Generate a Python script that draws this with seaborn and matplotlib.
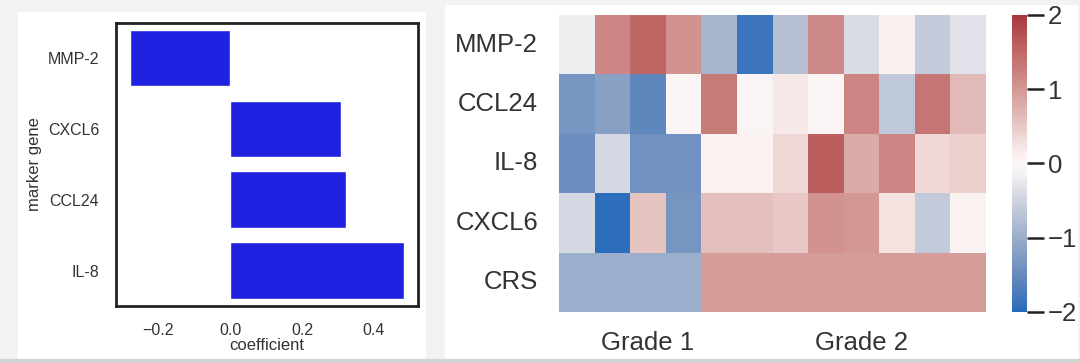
import matplotlib

matplotlib.use("Agg")
import matplotlib.pyplot as plt  # noqa: E402
import numpy as np  # noqa: E402
import pandas as pd  # noqa: E402
import seaborn as sns  # noqa: E402
from matplotlib.patches import Rectangle  # noqa: E402

sns.set_theme(style="white")
plt.rcParams["font.family"] = ["Liberation Sans", "DejaVu Sans"]

# коэффициенты маркерных генов
genes = ["MMP-2", "CXCL6", "CCL24", "IL-8"]
coefs = [-0.279, 0.307, 0.321, 0.484]

# тепловая карта: строки и значения по пациентам
rows = ["MMP-2", "CCL24", "IL-8", "CXCL6", "CRS"]
mmp2 = [-0.2, 1.2, 1.5, 1.05, -0.9, -1.85, -0.75, 1.15, -0.4, 0.1, -0.6, -0.3]
ccl24 = [-1.35, -1.2, -1.55, 0.03, 1.3, 0.03, 0.2, 0.0, 1.2, -0.65, 1.35, 0.65]
il8 = [-1.45, -0.45, -1.4, -1.4, 0.08, 0.08, 0.35, 1.6, 0.8, 1.2, 0.35, 0.45]
cxcl6 = [-0.45, -1.95, 0.55, -1.35, 0.6, 0.6, 0.5, 1.05, 1.0, 0.25, -0.6, 0.08]
crs = [-1.0] * 4 + [0.95] * 8
grade_labels = ["Grade 1", "Grade 2"]
grade_ticks = [2.5, 8.5]

fig = plt.figure(figsize=(10.8, 3.63), dpi=100)
fig.patch.set_facecolor("#f2f2f2")
# белые подложки двух панелей
fig.add_artist(Rectangle((18 / 1080, 5 / 363), 407 / 1080, 346 / 363,
                         transform=fig.transFigure, color="white", zorder=0))
fig.add_artist(Rectangle((445 / 1080, 5 / 363), 632 / 1080, 353 / 363,
                         transform=fig.transFigure, color="white", zorder=0))
fig.add_artist(Rectangle((0, 0), 1, 4 / 363, transform=fig.transFigure,
                         color="#d4d4d4", zorder=0))

text_color = "#333333"

ax1 = fig.add_axes([0.1074, 0.157, 0.2796, 0.7805])
sns.barplot(x=coefs, y=genes, color="#2020e0", saturation=1, orient="h", ax=ax1)
ax1.set_xlabel("coefficient", fontsize=12, color=text_color, labelpad=0)
ax1.set_ylabel("marker gene", fontsize=12, color=text_color, labelpad=4)
ax1.set_xticks([-0.2, 0.0, 0.2, 0.4])
ax1.tick_params(axis="both", length=0, labelsize=11.5, labelcolor=text_color)
ax1.tick_params(axis="y", pad=12)
ax1.tick_params(axis="x", pad=12)
for s in ax1.spines.values():
    s.set_color("#222222")
    s.set_linewidth(2)

data = pd.DataFrame(np.array([mmp2, ccl24, il8, cxcl6, crs]), index=rows)

ax2 = fig.add_axes([0.5176, 0.1405, 0.3954, 0.8182])
cax = fig.add_axes([0.937, 0.1405, 0.0139, 0.8182])
sns.heatmap(data, cmap="vlag", vmin=-2, vmax=2, ax=ax2, cbar_ax=cax,
            xticklabels=False)
ax2.set_xticks(grade_ticks)
ax2.set_xticklabels(grade_labels)
ax2.tick_params(axis="both", length=0, labelsize=18.5, labelcolor=text_color)
ax2.tick_params(axis="y", pad=15, rotation=0)
ax2.tick_params(axis="x", pad=14)
ax2.set_ylabel("")

cax.set_yticks([-2, -1, 0, 1, 2])
cax.set_yticklabels(["\u22122", "\u22121", "0", "1", "2"])
cax.tick_params(length=12, width=1.8, color="#222222", labelsize=18.5,
                labelcolor=text_color, pad=3, right=True)

fig.savefig("out.png", dpi=100, facecolor=fig.get_facecolor())
